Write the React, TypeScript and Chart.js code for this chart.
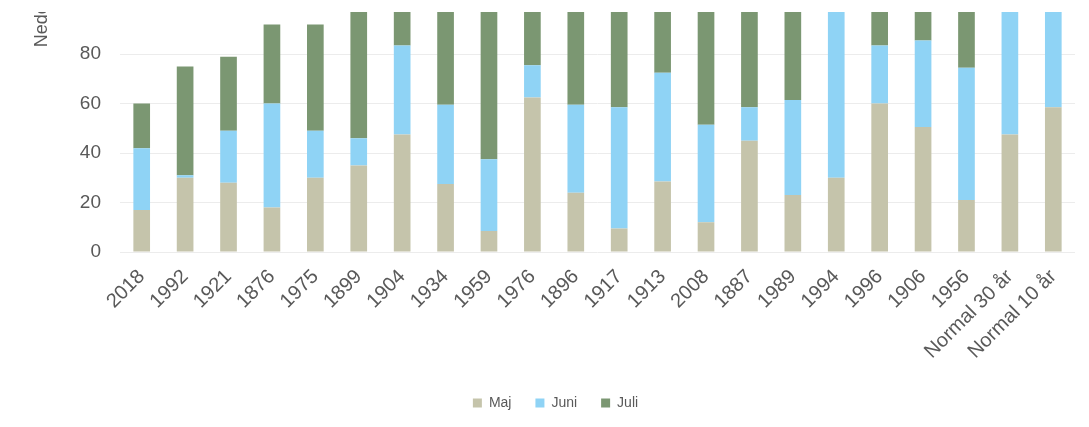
import React, { useEffect, useRef } from "react";
import { Chart, registerables } from "chart.js";

Chart.register(...registerables);

const categories = [
  "2018", "1992", "1921", "1876", "1975", "1899", "1904", "1934", "1959", "1976", "1896",
  "1917", "1913", "2008", "1887", "1989", "1994", "1996", "1906", "1956", "Normal 30 år", "Normal 10 år",
];
const seriesNames = ["Maj", "Juni", "Juli"];
const maj = [17, 30, 28, 18, 30, 35, 47.5, 27.5, 8.5, 62.5, 24, 9.5, 28.5, 12, 45, 23, 30, 60, 50.5, 21, 47.5, 58.5];
const juni = [25, 1, 21, 42, 19, 11, 36, 32, 29, 13, 35.5, 49, 44, 39.5, 13.5, 38.5, 80, 23.5, 35, 53.5, 60, 62];
const juli = [18, 44, 30, 32, 43, 55, 21, 47, 71, 35, 55, 58, 48, 72, 70, 72, 28, 61, 67, 90, 75, 70];
const yMin = 0;
const yMax = 200;
const yStep = 20;
const yTitle = "Nederbörd";
const colors = ["#c5c4ab", "#8fd3f5", "#7b9772"];

const FONT = "'Liberation Sans', Arial, sans-serif";
const CANVAS_W = 1089;
const CANVAS_H = 693;
const CANVAS_TOP = -273; // page coordinate of canvas top
const CLIP_TOP = 12;

export default function App() {
  const ref = useRef<HTMLCanvasElement | null>(null);

  useEffect(() => {
    if (!ref.current) return;
    const values = [maj, juni, juli];
    const chart = new Chart(ref.current, {
      type: "bar",
      data: {
        labels: categories,
        datasets: seriesNames.map((name, i) => ({
          label: name,
          data: values[i],
          backgroundColor: colors[i],
          borderWidth: 0,
          categoryPercentage: 0.8,
          barPercentage: 0.48,
        })),
      },
      options: {
        animation: false,
        responsive: false,
        layout: { padding: { top: 20, right: 14, bottom: 0, left: 36 } },
        plugins: {
          tooltip: { enabled: false },
          title: { display: false },
          legend: {
            display: true,
            position: "bottom",
            labels: {
              boxWidth: 9,
              boxHeight: 9,
              padding: 24,
              color: "#595959",
              font: { family: FONT, size: 14 },
            },
          },
        },
        scales: {
          x: {
            stacked: true,
            grid: { display: false, drawTicks: false },
            border: { display: false },
            ticks: {
              autoSkip: false,
              minRotation: 45,
              maxRotation: 45,
              padding: 13,
              color: "#595959",
              font: { family: FONT, size: 20 },
            },
            afterFit: (scale: any) => {
              scale.height = 120;
            },
          },
          y: {
            stacked: true,
            min: yMin,
            max: yMax,
            grid: { color: "#ececec", lineWidth: 1, drawTicks: false },
            border: { display: false },
            ticks: {
              stepSize: yStep,
              padding: 19,
              color: "#595959",
              font: { family: FONT, size: 19 },
            },
            title: {
              display: true,
              text: yTitle,
              color: "#595959",
              font: { family: FONT, size: 18 },
              padding: { top: -5, bottom: 0 },
            },
            afterFit: (scale: any) => {
              scale.width = 84;
            },
          },
        },
      },
    });
    return () => chart.destroy();
  }, []);

  return (
    <div
      style={{
        position: "absolute",
        left: 0,
        top: CLIP_TOP,
        width: CANVAS_W,
        height: 427 - CLIP_TOP,
        overflow: "hidden",
        background: "#fff",
      }}
    >
      <canvas
        ref={ref}
        width={CANVAS_W}
        height={CANVAS_H}
        style={{
          position: "absolute",
          left: 0,
          top: CANVAS_TOP - CLIP_TOP,
          width: CANVAS_W,
          height: CANVAS_H,
        }}
      />
    </div>
  );
}
